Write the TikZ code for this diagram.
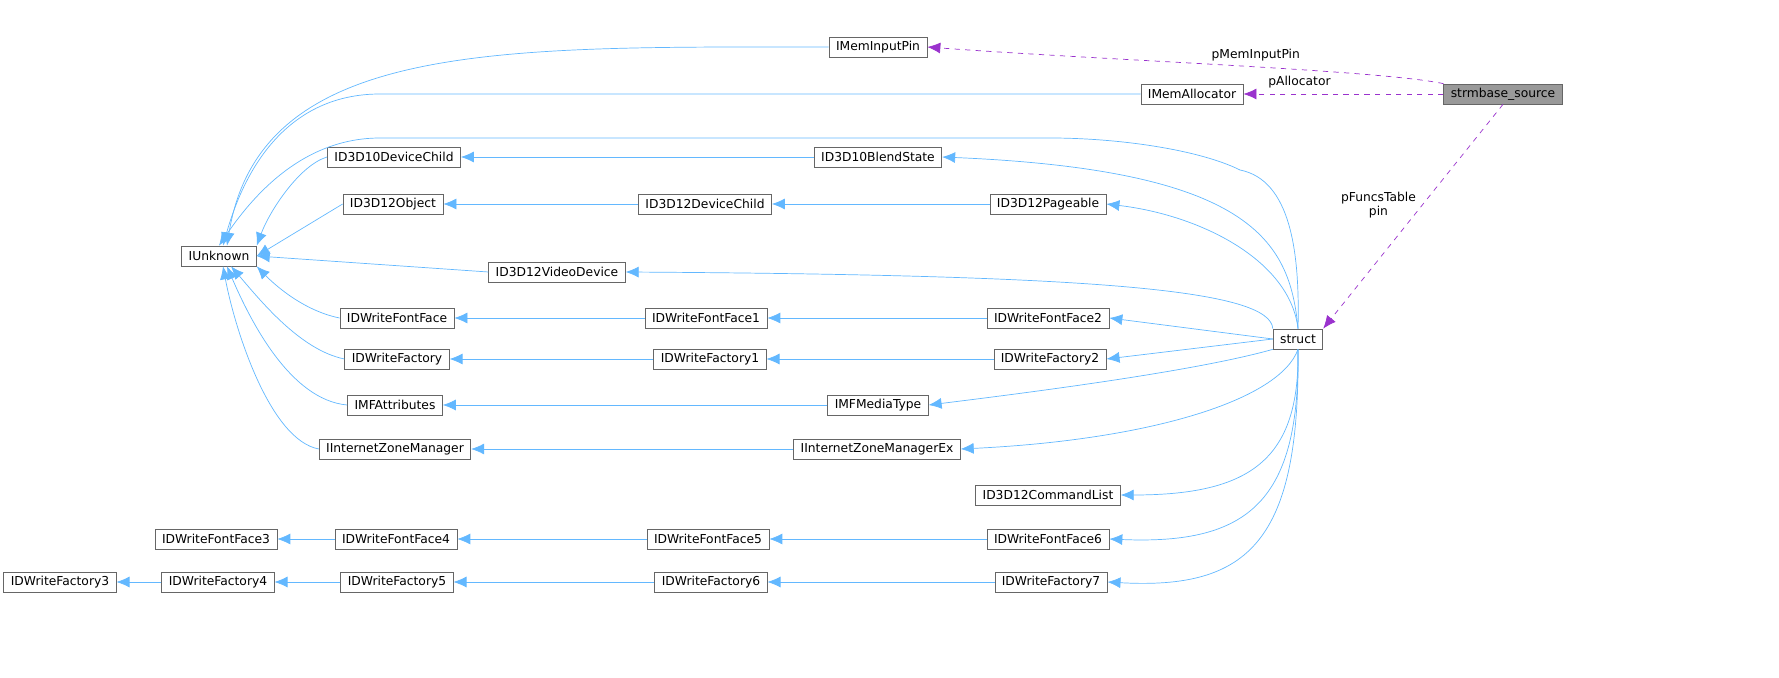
\documentclass[tikz,border=0pt]{standalone}
\usepackage{fontspec}
\setmainfont{DejaVu Sans}
\usetikzlibrary{arrows.meta,positioning,calc}
\definecolor{edgeblue}{HTML}{63B8FF}
\definecolor{edgepurple}{HTML}{9A32CD}

\begin{document}
\begin{tikzpicture}[
    x=0.02cm, y=-0.02cm,
    cls/.style={rectangle, draw=black!60, fill=white, minimum height=0.4cm, inner xsep=0.14cm, inner ysep=0pt, font=\fontsize{7}{8}\selectfont},
    root/.style={cls, fill=gray!80},
    inh/.style={-{Latex[length=2.6mm, width=2.2mm]}, draw=edgeblue, thin},
    use/.style={-{Latex[length=2.6mm, width=2.2mm]}, draw=edgepurple, dashed, thin},
    lbl/.style={font=\fontsize{7}{8}\selectfont, align=center},
]
    \useasboundingbox (0,0) rectangle (1779,678);

    % top row
    \node[root] (source) at (1503,94) {strmbase\_source};
    \node[cls] (meminput) at (878,47) {IMemInputPin};
    \node[cls] (memalloc) at (1192,94) {IMemAllocator};
    \node[cls] (struct) at (1298,339) {struct};
    \node[cls] (unknown) at (219,256) {IUnknown};

    % interfaces
    \node[cls] (d3d10child) at (394,157) {ID3D10DeviceChild};
    \node[cls] (d3d10blend) at (878,157) {ID3D10BlendState};
    \node[cls] (d3d12obj) at (393,204) {ID3D12Object};
    \node[cls] (d3d12child) at (705,204) {ID3D12DeviceChild};
    \node[cls] (d3d12page) at (1048,204) {ID3D12Pageable};
    \node[cls] (d3d12video) at (557,272) {ID3D12VideoDevice};
    \node[cls] (fontface) at (397,318) {IDWriteFontFace};
    \node[cls] (fontface1) at (706,318) {IDWriteFontFace1};
    \node[cls] (fontface2) at (1048,318) {IDWriteFontFace2};
    \node[cls] (factory) at (397,359) {IDWriteFactory};
    \node[cls] (factory1) at (710,359) {IDWriteFactory1};
    \node[cls] (factory2) at (1050,359) {IDWriteFactory2};
    \node[cls] (mfattr) at (395,405) {IMFAttributes};
    \node[cls] (mfmedia) at (878,405) {IMFMediaType};
    \node[cls] (zone) at (395,449) {IInternetZoneManager};
    \node[cls] (zoneex) at (877,449) {IInternetZoneManagerEx};
    \node[cls] (cmdlist) at (1048,495) {ID3D12CommandList};
    \node[cls] (fontface3) at (216,539) {IDWriteFontFace3};
    \node[cls] (fontface4) at (396,539) {IDWriteFontFace4};
    \node[cls] (fontface5) at (708,539) {IDWriteFontFace5};
    \node[cls] (fontface6) at (1048,539) {IDWriteFontFace6};
    \node[cls] (factory3) at (60,582) {IDWriteFactory3};
    \node[cls] (factory4) at (218,582) {IDWriteFactory4};
    \node[cls] (factory5) at (397,582) {IDWriteFactory5};
    \node[cls] (factory6) at (711,582) {IDWriteFactory6};
    \node[cls] (factory7) at (1051,582) {IDWriteFactory7};

    % members
    \draw[use] (source.north west) .. controls (1380,70) and (1100,60) .. node[lbl, above, pos=0.45] {pMemInputPin} (meminput.east);
    \draw[use] (source.west) -- node[lbl, above, pos=0.72] {pAllocator} (memalloc.east);
    \draw[use] (source.south) -- node[lbl, left, pos=0.45] {pFuncsTable\\pin} (struct.north east);

    % bases of IUnknown children
    \draw[inh] (meminput.west) .. controls (500,47) and (260,40) .. ($(unknown.north)+(8,0)$);
    \draw[inh] (memalloc.west) -- (380,94) .. controls (300,94) and (250,150) .. ($(unknown.north)+(4,0)$);
    \draw[inh] (struct.north) .. controls (1300,250) and (1290,180) .. (1240,170) .. controls (1200,150) and (1120,138) .. (1050,138) -- (380,138) .. controls (300,138) and (250,200) .. (unknown.north);
    \draw[inh] (d3d10child.west) .. controls (300,165) and (270,210) .. (unknown.north east);
    \draw[inh] (d3d12obj.west) -- (unknown.east);
    \draw[inh] (d3d12video.west) -- (unknown.east);
    \draw[inh] (fontface.west) .. controls (300,310) and (270,280) .. (unknown.south east);
    \draw[inh] (factory.west) .. controls (300,350) and (260,300) .. ($(unknown.south)+(12,0)$);
    \draw[inh] (mfattr.west) .. controls (290,400) and (250,320) .. ($(unknown.south)+(8,0)$);
    \draw[inh] (zone.west) .. controls (270,440) and (235,330) .. ($(unknown.south)+(4,0)$);

    % chains
    \draw[inh] (d3d10blend) -- (d3d10child);
    \draw[inh] (d3d12child) -- (d3d12obj);
    \draw[inh] (d3d12page) -- (d3d12child);
    \draw[inh] (fontface1) -- (fontface);
    \draw[inh] (fontface2) -- (fontface1);
    \draw[inh] (factory1) -- (factory);
    \draw[inh] (factory2) -- (factory1);
    \draw[inh] (mfmedia) -- (mfattr);
    \draw[inh] (zoneex) -- (zone);
    \draw[inh] (fontface4) -- (fontface3);
    \draw[inh] (fontface5) -- (fontface4);
    \draw[inh] (fontface6) -- (fontface5);
    \draw[inh] (factory4) -- (factory3);
    \draw[inh] (factory5) -- (factory4);
    \draw[inh] (factory6) -- (factory5);
    \draw[inh] (factory7) -- (factory6);

    % struct bases
    \draw[inh] (struct.north) .. controls (1290,240) and (1250,170) .. (d3d10blend.east);
    \draw[inh] (struct.north) .. controls (1290,260) and (1200,215) .. (d3d12page.east);
    \draw[inh] (struct.north west) .. controls (1270,290) and (1100,275) .. (d3d12video.east);
    \draw[inh] (struct.west) -- (fontface2.east);
    \draw[inh] (struct.west) -- (factory2.east);
    \draw[inh] (struct.south west) .. controls (1200,370) and (1050,390) .. (mfmedia.east);
    \draw[inh] (struct.south) .. controls (1280,400) and (1150,440) .. (zoneex.east);
    \draw[inh] (struct.south) .. controls (1300,460) and (1250,495) .. (cmdlist.east);
    \draw[inh] (struct.south) .. controls (1300,500) and (1250,545) .. (fontface6.east);
    \draw[inh] (struct.south) .. controls (1300,540) and (1250,590) .. (factory7.east);
\end{tikzpicture}
\end{document}
